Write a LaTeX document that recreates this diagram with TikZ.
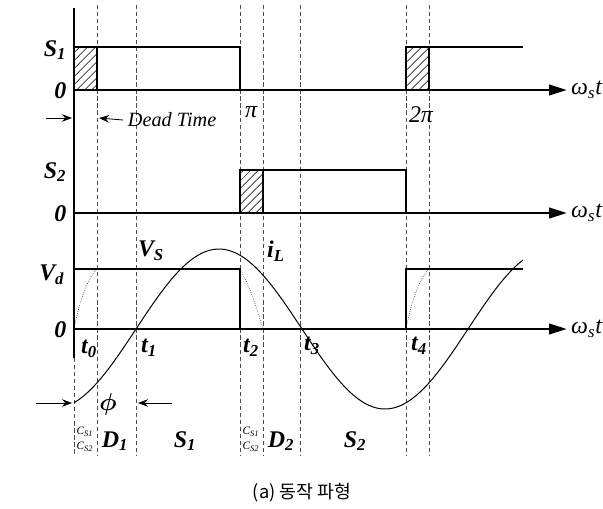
\documentclass[tikz,border=0pt]{standalone}
\usepackage{fontspec}
\setmainfont{Liberation Serif}
\newfontfamily\krfont{Noto Sans CJK KR}
\usetikzlibrary{arrows.meta,patterns.meta}

\begin{document}
\begin{tikzpicture}[x=0.025cm, y=-0.025cm,
  ax/.style={line width=2pt, -{Triangle[length=4.5mm,width=2.6mm]}},
  wave/.style={line width=1.2pt},
  guide/.style={densely dashed, line width=0.3pt, black!70},
  capline/.style={densely dotted, line width=0.4pt},
  hatch/.style={wave, pattern={Lines[angle=45,distance=4pt,line width=0.5pt]}},
  lvl/.style={font=\fontsize{17}{19}\selectfont\bfseries\itshape, anchor=east, inner sep=1pt},
  tk/.style={font=\fontsize{17}{19}\selectfont\bfseries\itshape, inner sep=1pt},
  wt/.style={font=\fontsize{17}{19}\selectfont\itshape, anchor=west, inner sep=2pt},
  mk/.style={-{Stealth[length=2.5mm]}, line width=0.6pt},
  cs/.style={font=\footnotesize\itshape, inner sep=0pt}]

\useasboundingbox (0,0) rectangle (603,508);

% guide lines
\foreach \gx in {97,136,240,263,300,406,429}
  \draw[guide] (\gx,5) -- (\gx,456);
\draw[guide] (74,358) -- (74,456);

% vertical axis and time axes
\draw[line width=2pt] (74,8) -- (74,358);
\draw[ax] (74,90) -- (567,90) node[wt] (w1) {ω\textsubscript{s}t};
\draw[ax] (74,213) -- (567,213) node[wt] (w2) {ω\textsubscript{s}t};
\draw[ax] (74,329) -- (567,329) node[wt] (w3) {ω\textsubscript{s}t};

% S1 gate signal
\draw[hatch] (74,90) rectangle (97,47);
\draw[wave] (97,47) -- (240,47) -- (240,90);
\draw[hatch] (406,90) rectangle (429,47);
\draw[wave] (429,47) -- (523,47);
\node[lvl] (s1) at (68,50) {S\textsubscript{1}};
\node[lvl] (z1) at (68,91) {0};
\node[wt, anchor=center] (pi1) at (251,112) {π};
\node[wt, anchor=center] (pi2) at (421,115) {2π};

% dead time
\coordinate (dl) at (46,118);
\coordinate (dr) at (99,118);
\node[font=\Large\itshape, anchor=west] (dt) at (123,120) {Dead Time};
\draw[mk] (dl) -- (72,118);
\draw[mk] (dt.west) -- (dr);

% S2 gate signal
\draw[hatch] (240,213) rectangle (263,170);
\draw[wave] (263,170) -- (406,170) -- (406,213);
\node[lvl] (s2) at (68,172) {S\textsubscript{2}};
\node[lvl] (z2) at (68,214) {0};

% output voltage and current
\draw[wave] (74,269) -- (240,269) -- (240,329);
\draw[wave] (406,329) -- (406,269) -- (523,269);
\draw[capline] (74,329) .. controls (80,298) and (89,276) .. (97,269);
\draw[capline] (240,269) .. controls (248,282) and (257,308) .. (263,329);
\draw[capline] (406,329) .. controls (412,298) and (421,276) .. (429,269);
\draw[line width=0.7pt] plot[domain=74:523, samples=120, smooth]
  (\x, {329-80*sin((\x-136)*1.0843)});
\node[lvl] (vd) at (66,275) {V\textsubscript{d}};
\node[lvl] (z3) at (68,330) {0};
\node[tk] (vs) at (151,251) {V\textsubscript{S}};
\node[tk] (il) at (276,251) {i\textsubscript{L}};

\node[tk] (t0) at (89,349) {t\textsubscript{0}};
\node[tk] (t1) at (149,348) {t\textsubscript{1}};
\node[tk] (t2) at (251,348) {t\textsubscript{2}};
\node[tk] (t3) at (312,346) {t\textsubscript{3}};
\node[tk] (t4) at (419,346) {t\textsubscript{4}};

% phase shift
\coordinate (pl) at (36,403);
\coordinate (pr) at (172,403);
\node[font=\LARGE\boldmath] (phi) at (108,404) {$\phi$};
\draw[mk] (pl) -- (72,403);
\draw[mk] (pr) -- (138,403);

% operating intervals
\node[cs] (c1a) at (85,432) {C\textsubscript{S1}};
\node[cs] (c1b) at (85,447) {C\textsubscript{S2}};
\node[tk] (d1) at (115,441) {D\textsubscript{1}};
\node[tk] (m1) at (185,441) {S\textsubscript{1}};
\node[cs] (c2a) at (251,432) {C\textsubscript{S1}};
\node[cs] (c2b) at (251,447) {C\textsubscript{S2}};
\node[tk] (d2) at (281,441) {D\textsubscript{2}};
\node[tk] (m2) at (355,441) {S\textsubscript{2}};

\node[font=\krfont\fontsize{13}{15}\selectfont] (capt) at (302,493) {(a) 동작 파형};
\end{tikzpicture}
\end{document}
